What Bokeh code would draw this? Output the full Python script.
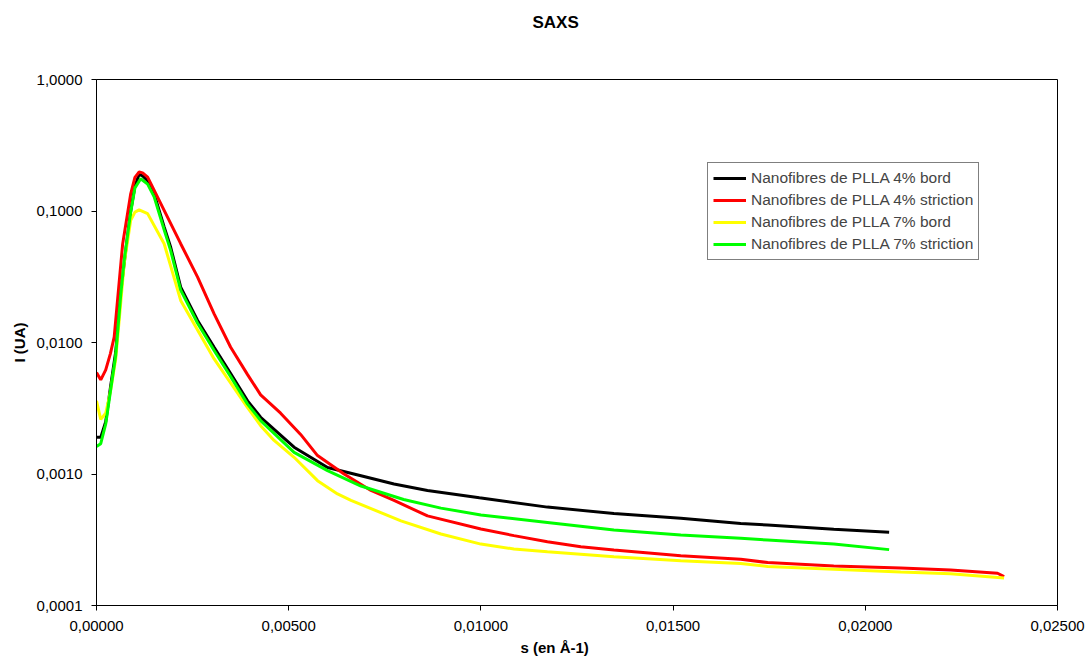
import math
from bokeh.plotting import figure
from bokeh.models import FixedTicker, Legend, LegendItem, Range1d, Title
from bokeh.embed import file_html
from bokeh.resources import INLINE

# ---- data ----
s_4_bord = [0.0, 0.00011, 0.00024, 0.00036, 0.00050, 0.00063, 0.00076, 0.00089, 0.00100, 0.00111,
            0.00120, 0.00133, 0.00150, 0.00176, 0.00193, 0.00219, 0.00263, 0.00306, 0.00349, 0.00393,
            0.00427, 0.00514, 0.00601, 0.00688, 0.00774, 0.00861, 0.00996, 0.01173, 0.01346, 0.01520,
            0.01676, 0.01746, 0.01918, 0.02062]
i_4_bord = [0.0019, 0.0019, 0.0025, 0.0045, 0.0085, 0.024, 0.050, 0.100, 0.155, 0.190,
            0.185, 0.170, 0.135, 0.0755, 0.053, 0.0264, 0.0147, 0.0092, 0.0058, 0.0036,
            0.0027, 0.0016, 0.00112, 0.00097, 0.00084, 0.00075, 0.00066, 0.00056, 0.00050, 0.00046,
            0.00042, 0.00041, 0.00038, 0.00036]

s_4_stri = [0.0, 0.00011, 0.00024, 0.00036, 0.00046, 0.00068, 0.00089, 0.00100, 0.00111, 0.00120,
            0.00133, 0.00176, 0.00219, 0.00263, 0.00306, 0.00349, 0.00393, 0.00427, 0.00479, 0.00531,
            0.00575, 0.00644, 0.00714, 0.00774, 0.00861, 0.01000, 0.01086, 0.01173, 0.01260, 0.01346,
            0.01520, 0.01676, 0.01746, 0.01918, 0.02092, 0.02222, 0.02344, 0.02361]
i_4_stri = [0.0059, 0.0052, 0.0062, 0.0082, 0.011, 0.056, 0.135, 0.180, 0.198, 0.195,
            0.181, 0.101, 0.0564, 0.0314, 0.0165, 0.0092, 0.0057, 0.0040, 0.0029, 0.0020,
            0.00138, 0.00100, 0.00075, 0.00063, 0.00048, 0.000382, 0.00034, 0.000305, 0.00028, 0.000264,
            0.000239, 0.000225, 0.000212, 0.00020, 0.000193, 0.000186, 0.000176, 0.000166]

s_7_bord = [0.0, 0.00011, 0.00024, 0.00036, 0.00050, 0.00063, 0.00072, 0.00089, 0.00100, 0.00111,
            0.00133, 0.00176, 0.00219, 0.00306, 0.00393, 0.00427, 0.00462, 0.00514, 0.00575, 0.00627,
            0.00662, 0.00792, 0.00896, 0.01000, 0.01086, 0.01173, 0.01346, 0.01520, 0.01676, 0.01746,
            0.01918, 0.02092, 0.02222, 0.02361]
i_7_bord = [0.0036, 0.0026, 0.0029, 0.0042, 0.0075, 0.020, 0.040, 0.085, 0.098, 0.102,
            0.0955, 0.0564, 0.0209, 0.0075, 0.0032, 0.00233, 0.0018, 0.00134, 0.00089, 0.000705,
            0.00063, 0.00044, 0.00035, 0.000293, 0.000269, 0.000256, 0.000235, 0.000219, 0.000209, 0.000198,
            0.000189, 0.00018, 0.000174, 0.000162]

s_7_stri = [0.0, 0.00011, 0.00024, 0.00036, 0.00050, 0.00063, 0.00072, 0.00089, 0.00100, 0.00115,
            0.00133, 0.00150, 0.00176, 0.00193, 0.00219, 0.00263, 0.00306, 0.00349, 0.00393, 0.00427,
            0.00514, 0.00601, 0.00688, 0.00799, 0.00896, 0.01000, 0.01173, 0.01346, 0.01520, 0.01676,
            0.01746, 0.01918, 0.02062]
i_7_stri = [0.00162, 0.0017, 0.0024, 0.0042, 0.0080, 0.023, 0.042, 0.098, 0.150, 0.176,
            0.160, 0.128, 0.072, 0.050, 0.025, 0.014, 0.0087, 0.0055, 0.0034, 0.00255,
            0.00146, 0.00106, 0.00081, 0.00064, 0.00055, 0.000488, 0.000428, 0.000375, 0.000343, 0.000324,
            0.000315, 0.000293, 0.000266]

series_names = ["Nanofibres de PLLA 4% bord", "Nanofibres de PLLA 4% striction",
                "Nanofibres de PLLA 7% bord", "Nanofibres de PLLA 7% striction"]
series_colors = ["#000000", "#FF0000", "#FFFF00", "#00FF00"]

x_ticks = [0.0, 0.005, 0.010, 0.015, 0.020, 0.025]
x_tick_labels = ["0,00000", "0,00500", "0,01000", "0,01500", "0,02000", "0,02500"]
y_ticks = [0.0001, 0.001, 0.01, 0.1, 1.0]
y_tick_labels = ["0,0001", "0,0010", "0,0100", "0,1000", "1,0000"]

FONT = "Liberation Sans"

p = figure(width=1086, height=662, y_axis_type="log",
           x_range=Range1d(0, 0.025), y_range=Range1d(0.0001, 1.0),
           output_backend="svg", toolbar_location=None,
           min_border_left=96, min_border_right=29, min_border_top=79, min_border_bottom=57)
p.background_fill_color = "white"
p.border_fill_color = "white"
p.outline_line_color = "black"
p.outline_line_width = 1
p.xgrid.visible = False
p.ygrid.visible = False

for ax in (p.xaxis[0], p.yaxis[0]):
    ax.axis_line_color = "black"
    ax.major_tick_line_color = "black"
    ax.major_tick_out = 5
    ax.major_tick_in = 0
    ax.minor_tick_line_color = None
    ax.major_label_text_font = FONT
    ax.major_label_text_font_size = "15px"
    ax.major_label_text_color = "black"

p.xaxis.ticker = FixedTicker(ticks=x_ticks)
p.xaxis.major_label_overrides = {t: l for t, l in zip(x_ticks, x_tick_labels)}
p.xaxis.major_label_standoff = 10
p.yaxis.ticker = FixedTicker(ticks=y_ticks)
p.yaxis.major_label_overrides = {t: l for t, l in zip(y_ticks, y_tick_labels)}
p.yaxis.major_label_standoff = 9
p.yaxis.axis_label = "I (UA)"
p.yaxis.axis_label_text_font = FONT
p.yaxis.axis_label_text_font_size = "15px"
p.yaxis.axis_label_text_font_style = "bold"
p.yaxis.axis_label_text_color = "black"
p.yaxis.axis_label_standoff = 6

data = [(s_4_bord, i_4_bord), (s_4_stri, i_4_stri), (s_7_bord, i_7_bord), (s_7_stri, i_7_stri)]
items = []
for (xs, ys), name, col in zip(data, series_names, series_colors):
    r = p.line(xs, ys, line_color=col, line_width=3)
    items.append(LegendItem(label=name, renderers=[r]))

legend = Legend(items=items, location=(611, 345), orientation="vertical",
                label_text_font=FONT, label_text_font_size="15.5px",
                glyph_width=33, glyph_height=20, label_height=20, label_standoff=5,
                spacing=2, padding=5, margin=0,
                border_line_color="black", border_line_width=1,
                background_fill_color="white", background_fill_alpha=1.0)
p.add_layout(legend, "center")

# title: empty built-in title, spacer next to the frame, then the real title further out
p.title.text = ""
p.add_layout(Title(text=" ", text_font=FONT, text_font_size="11px", standoff=29), "above")
p.add_layout(Title(text="SAXS", align="left", offset=436, text_font=FONT,
                   text_font_size="17px", text_font_style="bold", text_color="black",
                   standoff=10), "above")

# x axis label as a title placed below, for horizontal control
p.add_layout(Title(text="s (en Å-1)", align="left", offset=424, text_font=FONT,
                   text_font_size="15px", text_font_style="bold", text_color="black",
                   standoff=6), "below")

open("out.html", "w").write(file_html(p, INLINE))
